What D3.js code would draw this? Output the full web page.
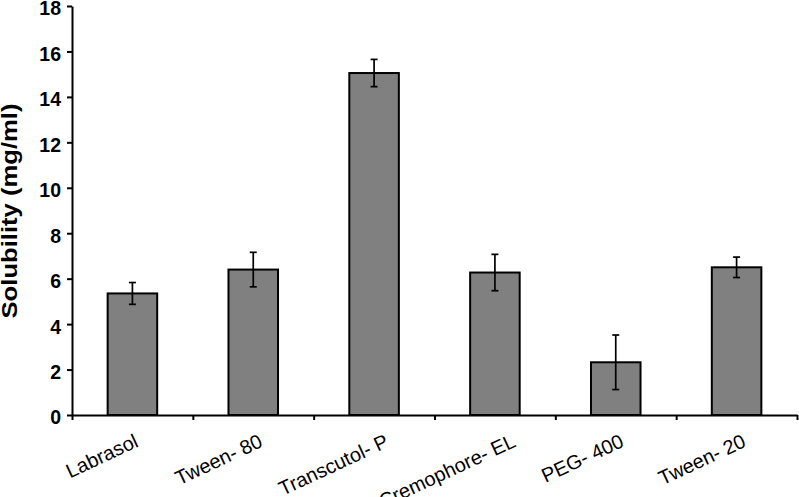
<!DOCTYPE html>
<html>
<head>
<meta charset="utf-8">
<script src="https://cdn.jsdelivr.net/npm/d3@7"></script>
<style>
  body { margin: 0; background: #fff; }
  svg { display: block; font-family: "Liberation Sans", Arial, sans-serif; }
</style>
</head>
<body>
<div id="chart"></div>
<script>
const categories = ['Labrasol', 'Tween- 80', 'Transcutol- P', 'Cremophore- EL', 'PEG- 400', 'Tween- 20'];
const solubility = [5.35, 6.4, 15.05, 6.27, 2.32, 6.5];
const errors = [0.48, 0.76, 0.6, 0.8, 1.2, 0.45];
const yTicks = [0, 2, 4, 6, 8, 10, 12, 14, 16, 18];

const width = 799, height = 497;
const margin = {top: 6, right: 2, bottom: 82, left: 72};

const svg = d3.select('#chart').append('svg')
  .attr('width', width)
  .attr('height', height);

const x = d3.scaleBand()
  .domain(categories)
  .range([margin.left, width - margin.right])
  .padding(0);

const idx = d3.scaleLinear()
  .domain([0, categories.length])
  .range([margin.left, width - margin.right]);

const y = d3.scaleLinear()
  .domain([0, 18])
  .range([height - margin.bottom, margin.top]);

const barW = x.step() * 0.41;

// bars
svg.selectAll('.bar')
  .data(categories)
  .enter().append('rect')
  .attr('class', 'bar')
  .attr('x', d => x(d) + (x.step() - barW) / 2)
  .attr('width', barW)
  .attr('y', (d, i) => y(solubility[i]))
  .attr('height', (d, i) => y(0) - y(solubility[i]))
  .attr('fill', '#808080')
  .attr('stroke', '#000')
  .attr('stroke-width', 2);

// error bars
const err = svg.selectAll('.err')
  .data(categories)
  .enter().append('g')
  .attr('class', 'err')
  .attr('stroke', '#000')
  .attr('stroke-width', 1.7);

err.append('line')
  .attr('x1', d => x(d) + x.step() / 2)
  .attr('x2', d => x(d) + x.step() / 2)
  .attr('y1', (d, i) => y(solubility[i] + errors[i]))
  .attr('y2', (d, i) => y(solubility[i] - errors[i]));

err.append('line')
  .attr('x1', d => x(d) + x.step() / 2 - 3.5)
  .attr('x2', d => x(d) + x.step() / 2 + 3.5)
  .attr('y1', (d, i) => y(solubility[i] + errors[i]))
  .attr('y2', (d, i) => y(solubility[i] + errors[i]));

err.append('line')
  .attr('x1', d => x(d) + x.step() / 2 - 3.5)
  .attr('x2', d => x(d) + x.step() / 2 + 3.5)
  .attr('y1', (d, i) => y(solubility[i] - errors[i]))
  .attr('y2', (d, i) => y(solubility[i] - errors[i]));

// x axis
const xAxis = svg.append('g')
  .attr('transform', `translate(0,${y(0)})`)
  .call(d3.axisBottom(idx).tickValues(d3.range(categories.length + 1)).tickSize(5).tickSizeOuter(0).tickFormat(''));
xAxis.select('.domain').attr('stroke-width', 2);
xAxis.selectAll('.tick line').attr('stroke-width', 2);

// category labels
svg.selectAll('.cat')
  .data(categories)
  .enter().append('text')
  .attr('class', 'cat')
  .attr('text-anchor', 'end')
  .style('font-size', '20px')
  .attr('fill', '#000')
  .text(d => d)
  .attr('transform', function(d) {
    const L = this.getComputedTextLength();
    const cx = x(d) + x.step() / 2 + 0.21 * L - 9;
    return `translate(${cx},446) rotate(-25)`;
  });

// y axis
const yAxis = svg.append('g')
  .attr('transform', `translate(${margin.left},0)`)
  .call(d3.axisLeft(y).tickValues(yTicks).tickSize(5).tickSizeOuter(0).tickPadding(6));
yAxis.select('.domain').attr('stroke-width', 2);
yAxis.selectAll('.tick line').attr('stroke-width', 2);
yAxis.selectAll('.tick text')
  .style('font-size', '19.5px')
  .style('font-weight', 'bold')
  .style('font-family', '"Liberation Sans", Arial, sans-serif')
  .attr('dy', '0.46em');

// y title
svg.append('text')
  .attr('transform', 'translate(17,211) rotate(-90)')
  .attr('text-anchor', 'middle')
  .style('font-size', '21.5px')
  .style('font-weight', 'bold')
  .attr('textLength', 215)
  .attr('lengthAdjust', 'spacingAndGlyphs')
  .text('Solubility (mg/ml)');
</script>
</body>
</html>
